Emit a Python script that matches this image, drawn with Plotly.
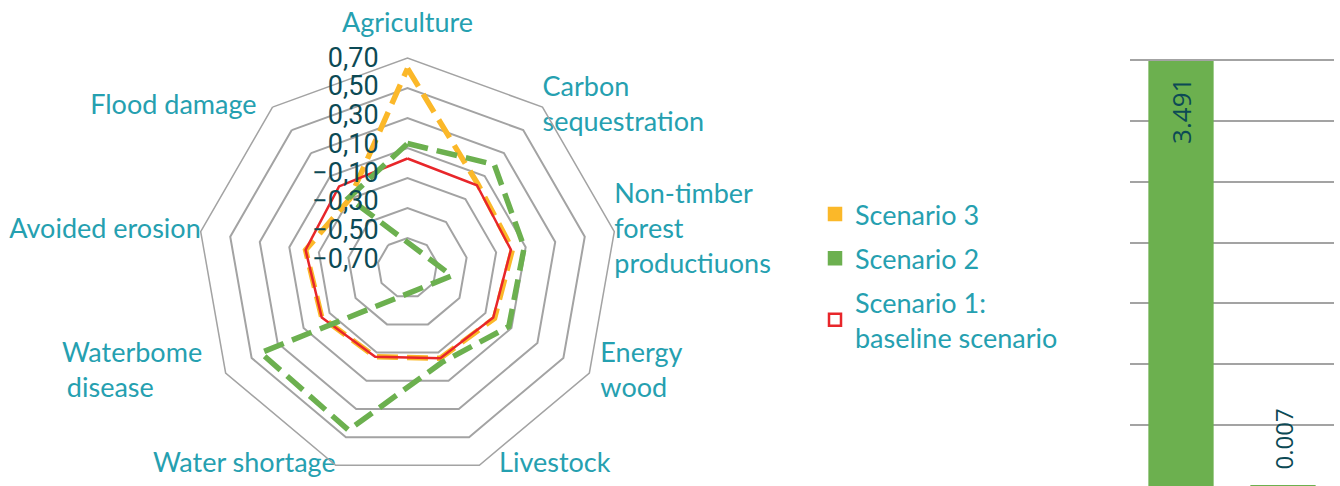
import plotly.graph_objects as go

# ---------------- data ----------------
categories = [
    "Agriculture",
    "Carbon<br>sequestration",
    "Non-timber<br>forest<br>productiuons",
    "Energy<br>wood",
    "Livestock",
    "Water shortage",
    "Waterbome<br>disease",
    "Avoided erosion",
    "Flood damage",
]
scenario3 = [0.63, 0.03, 0.01, -0.03, -0.06, -0.07, -0.04, -0.01, -0.10]
scenario2 = [0.13, 0.20, 0.09, 0.08, -0.03, 0.45, 0.43, -1.00, -0.09]
scenario1 = [0.03, 0.02, 0.00, -0.04, -0.06, -0.07, -0.04, -0.01, 0.01]

radial_ticks = [-0.7, -0.5, -0.3, -0.1, 0.1, 0.3, 0.5, 0.7]
radial_ticktext = ["\u22120,70", "\u22120,50", "\u22120,30", "\u22120,10",
                   "0,10", "0,30", "0,50", "0,70"]

bar_categories = ["A", "B"]
bar_values = [3.491, 0.007]

# ---------------- styles ----------------
RMIN, RMAX = -0.7, 0.7
LABEL_RMIN = -0.763          # Excel spaces the value labels a little tighter
TEAL = "#25a0b0"
DARK = "#0c4a55"
GRID = "#a3a3a3"
YELLOW = "#fbb829"
GREEN = "#6cb04f"
RED = "#e8262a"
NBSP = "\u00a0"

# category label placement (style only): text position, spacer size, line padding
label_pos = ["top center", "middle right", "middle right", "middle right",
             "middle right", "middle left", "middle left", "middle left",
             "middle left"]
label_gap = [30, 0, 0, 16, 30, 0, 36, 0, 24]
label_pad = {"Waterbome<br>disease": [0, 7]}


def label_text(cat):
    pads = label_pad.get(cat)
    if not pads:
        return cat
    lines = cat.split("<br>")
    return "<br>".join(line + NBSP * p for line, p in zip(lines, pads))


def excel_radar(values, rmin):
    """Excel draws values below the axis minimum reflected through the centre."""
    n = len(values)
    rs, ths = [], []
    for i, v in enumerate(values + values[:1]):
        ang = (i % n) * 360.0 / n if i < n else 360.0
        if v < rmin:
            rs.append(2 * rmin - v)
            ths.append(ang + 180.0)
        else:
            rs.append(v)
            ths.append(ang)
    return rs, ths


fig = go.Figure()

# legend-only entries (also register the categories on the grid subplot)
for name, color, symbol in [
    ("Scenario 3", YELLOW, "square"),
    ("Scenario 2", GREEN, "square"),
    ("Scenario 1:<br>baseline scenario", RED, "square-open"),
]:
    fig.add_trace(go.Scatterpolar(
        r=[None] * len(categories), theta=categories, mode="markers",
        name=name, subplot="polar", legendgroup=name,
        marker=dict(symbol=symbol, size=12, color=color,
                    line=dict(color=color, width=2.5)),
        hoverinfo="skip",
    ))

# category labels at the outer ring
fig.add_trace(go.Scatterpolar(
    r=[RMAX] * len(categories), theta=categories, mode="markers+text",
    text=[label_text(c) for c in categories], textposition=label_pos,
    subplot="polar",
    marker=dict(size=label_gap, color="rgba(0,0,0,0)", line_width=0),
    textfont=dict(family="Lato", size=27, color=TEAL),
    showlegend=False, cliponaxis=False, hoverinfo="skip",
))

# carrier for the value-label axis
fig.add_trace(go.Scatterpolar(r=[None], theta=[None], subplot="polar3",
                              showlegend=False, hoverinfo="skip"))

for vals, color, width, dash in [
    (scenario3, YELLOW, 5.5, "21px,9px"),
    (scenario1, RED, 2.5, "solid"),
    (scenario2, GREEN, 5.5, "21px,9px"),
]:
    r, th = excel_radar(vals, RMIN)
    fig.add_trace(go.Scatterpolar(
        r=r, theta=th, mode="lines", subplot="polar2", showlegend=False,
        line=dict(color=color, width=width, dash=dash),
        cliponaxis=False, hoverinfo="skip",
    ))

# bar chart on the right
bar_text = []
for v in bar_values:
    s = f"{v:.3f}"
    bar_text.append(s + NBSP * 2 if v > 1 else NBSP * 2 + s)
fig.add_trace(go.Bar(
    x=bar_categories, y=bar_values, marker_color=GREEN, marker_line_width=0,
    text=bar_text, texttemplate="%{text}",
    textposition=["inside", "outside"], insidetextanchor="end",
    textangle=-90, constraintext="none",
    textfont=dict(family="Open Sans", size=24, color=DARK),
    insidetextfont=dict(family="Open Sans", size=26, color=DARK),
    outsidetextfont=dict(family="Open Sans", size=24, color=DARK),
    showlegend=False, cliponaxis=False, hoverinfo="skip",
))

dom_x = [(407.5 - 210) / 1340, (407.5 + 210) / 1340]
dom_y = [(218 - 210) / 486, (218 + 210) / 486]

fig.update_layout(
    width=1340, height=486,
    margin=dict(l=0, r=0, t=0, b=0),
    paper_bgcolor="white", plot_bgcolor="white",
    font=dict(family="Lato", color=TEAL),
    polar=dict(
        domain=dict(x=dom_x, y=dom_y),
        gridshape="linear", bgcolor="white",
        angularaxis=dict(
            type="category", categoryorder="array", categoryarray=categories,
            rotation=90, direction="clockwise",
            showgrid=False, showline=True, linecolor=GRID, linewidth=1.5,
            showticklabels=False, ticks="",
        ),
        radialaxis=dict(
            range=[RMIN, RMAX], angle=90, tickvals=radial_ticks,
            showticklabels=False, ticks="",
            showline=False, showgrid=True, gridcolor=GRID, gridwidth=1.5,
        ),
    ),
    polar3=dict(
        domain=dict(x=dom_x, y=dom_y),
        bgcolor="rgba(0,0,0,0)",
        angularaxis=dict(visible=False, rotation=90, direction="clockwise"),
        radialaxis=dict(
            range=[LABEL_RMIN, RMAX], angle=90, tickangle=90,
            side="counterclockwise",
            tickvals=radial_ticks, ticktext=radial_ticktext,
            showline=False, showgrid=False,
            ticks="outside", ticklen=19, tickcolor="rgba(0,0,0,0)",
            tickfont=dict(family="Liberation Sans Narrow, Roboto", size=27,
                          color=DARK),
        ),
    ),
    polar2=dict(
        domain=dict(x=dom_x, y=dom_y),
        bgcolor="rgba(0,0,0,0)",
        angularaxis=dict(type="linear", thetaunit="degrees", rotation=90,
                         direction="clockwise", visible=False),
        radialaxis=dict(range=[RMIN, RMAX], visible=False),
    ),
    xaxis=dict(domain=[1130 / 1340, 1334 / 1340], showticklabels=False,
               showgrid=False, zeroline=False, ticks=""),
    yaxis=dict(domain=[0, 1], range=[0, 3.993], dtick=0.5, tick0=0,
               showticklabels=False, showgrid=True, gridcolor=GRID,
               gridwidth=1.5, zeroline=False, ticks=""),
    bargap=0.36,
    legend=dict(
        x=815 / 1340, y=1 - 190 / 486, xanchor="left", yanchor="top",
        font=dict(family="Lato", size=27, color=TEAL),
        bgcolor="rgba(0,0,0,0)", traceorder="grouped", tracegroupgap=6,
        itemwidth=30,
    ),
)

fig.write_html("out.html")
